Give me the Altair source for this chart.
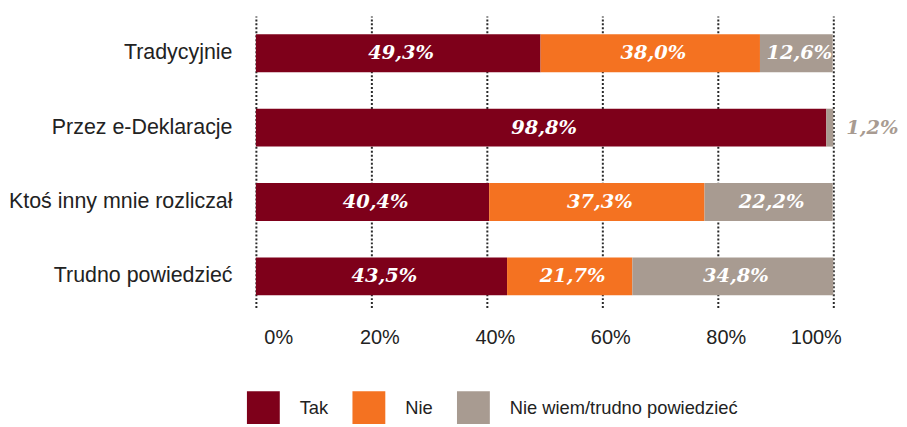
import altair as alt
import pandas as pd

categories = ["Tradycyjnie", "Przez e-Deklaracje", "Ktoś inny mnie rozliczał", "Trudno powiedzieć"]
responses = ["Tak", "Nie", "Nie wiem/trudno powiedzieć"]
tak = [49.3, 98.8, 40.4, 43.5]
nie = [38.0, 0.0, 37.3, 21.7]
nie_wiem = [12.6, 1.2, 22.2, 34.8]
colors = ["#7e001a", "#f47221", "#a89b91"]
x_ticks = [0, 20, 40, 60, 80, 100]

rows = []
for i, c in enumerate(categories):
    for j, (r, vals) in enumerate(zip(responses, [tak, nie, nie_wiem])):
        v = vals[i]
        rows.append({"cat": c, "resp": r, "val": v, "ord": j,
                     "label": f"{v:.1f}".replace(".", ",") + "%"})
df = pd.DataFrame(rows)

base = alt.Chart(df).transform_stack(
    stack="val", groupby=["cat"], sort=[alt.SortField("ord")], as_=["x0", "x1"]
).transform_calculate(mid="(datum.x0 + datum.x1) / 2")

y_enc = alt.Y("cat:N", sort=categories, title=None,
              scale=alt.Scale(paddingInner=0.49, paddingOuter=0.2065, align=0.6),
              axis=alt.Axis(domain=False, ticks=False, labelPadding=24, labelFontSize=21.5,
                            labelFont="Liberation Sans", labelColor="#222222", labelLimit=400))
x_scale = alt.Scale(domain=[0, 100], nice=False)

bars = base.mark_bar().encode(
    y=y_enc,
    x=alt.X("x0:Q", scale=x_scale, title=None,
            axis=alt.Axis(values=x_ticks, labelExpr="datum.value + '%'", domain=False, ticks=False,
                          labelFontSize=20, labelFont="Liberation Sans", labelColor="#222222",
                          labelPadding=20, labelOffset=8, grid=True, gridDash=[2, 2], gridWidth=2,
                          gridColor="#2a2a2a", gridCap="butt")),
    x2="x1:Q",
    color=alt.Color("resp:N", scale=alt.Scale(domain=responses, range=colors),
                    sort=responses, title=None,
                    legend=alt.Legend(orient="none", legendX=-9, legendY=377, direction="horizontal",
                                      symbolType="square", symbolSize=1089, symbolStrokeWidth=0,
                                      labelFontSize=18.4, labelFont="Liberation Sans",
                                      labelColor="#222222", labelOffset=20, columnPadding=24,
                                      labelLimit=400, padding=0)),
    order=alt.Order("ord:Q"),
)

inner = base.transform_filter("datum.val >= 5").mark_text(
    color="white", font="DejaVu Serif", fontSize=19.5, fontWeight="bold", fontStyle="italic", dx=3
).encode(y=alt.Y("cat:N", sort=categories), x=alt.X("mid:Q", scale=x_scale), text="label:N")

outer = base.transform_filter("datum.val > 0 && datum.val < 5").mark_text(
    color=colors[2], font="DejaVu Serif", fontSize=19.5, fontWeight="bold", fontStyle="italic",
    align="left", dx=13
).encode(y=alt.Y("cat:N", sort=categories), x=alt.X("x1:Q", scale=x_scale), text="label:N")

chart = alt.layer(bars, inner, outer).properties(
    width=580, height=293, padding={"top": 7, "left": 0, "right": 0, "bottom": 0}
).configure_view(stroke=None)

chart.save("out.html", embed_options={"renderer": "svg", "actions": False})
